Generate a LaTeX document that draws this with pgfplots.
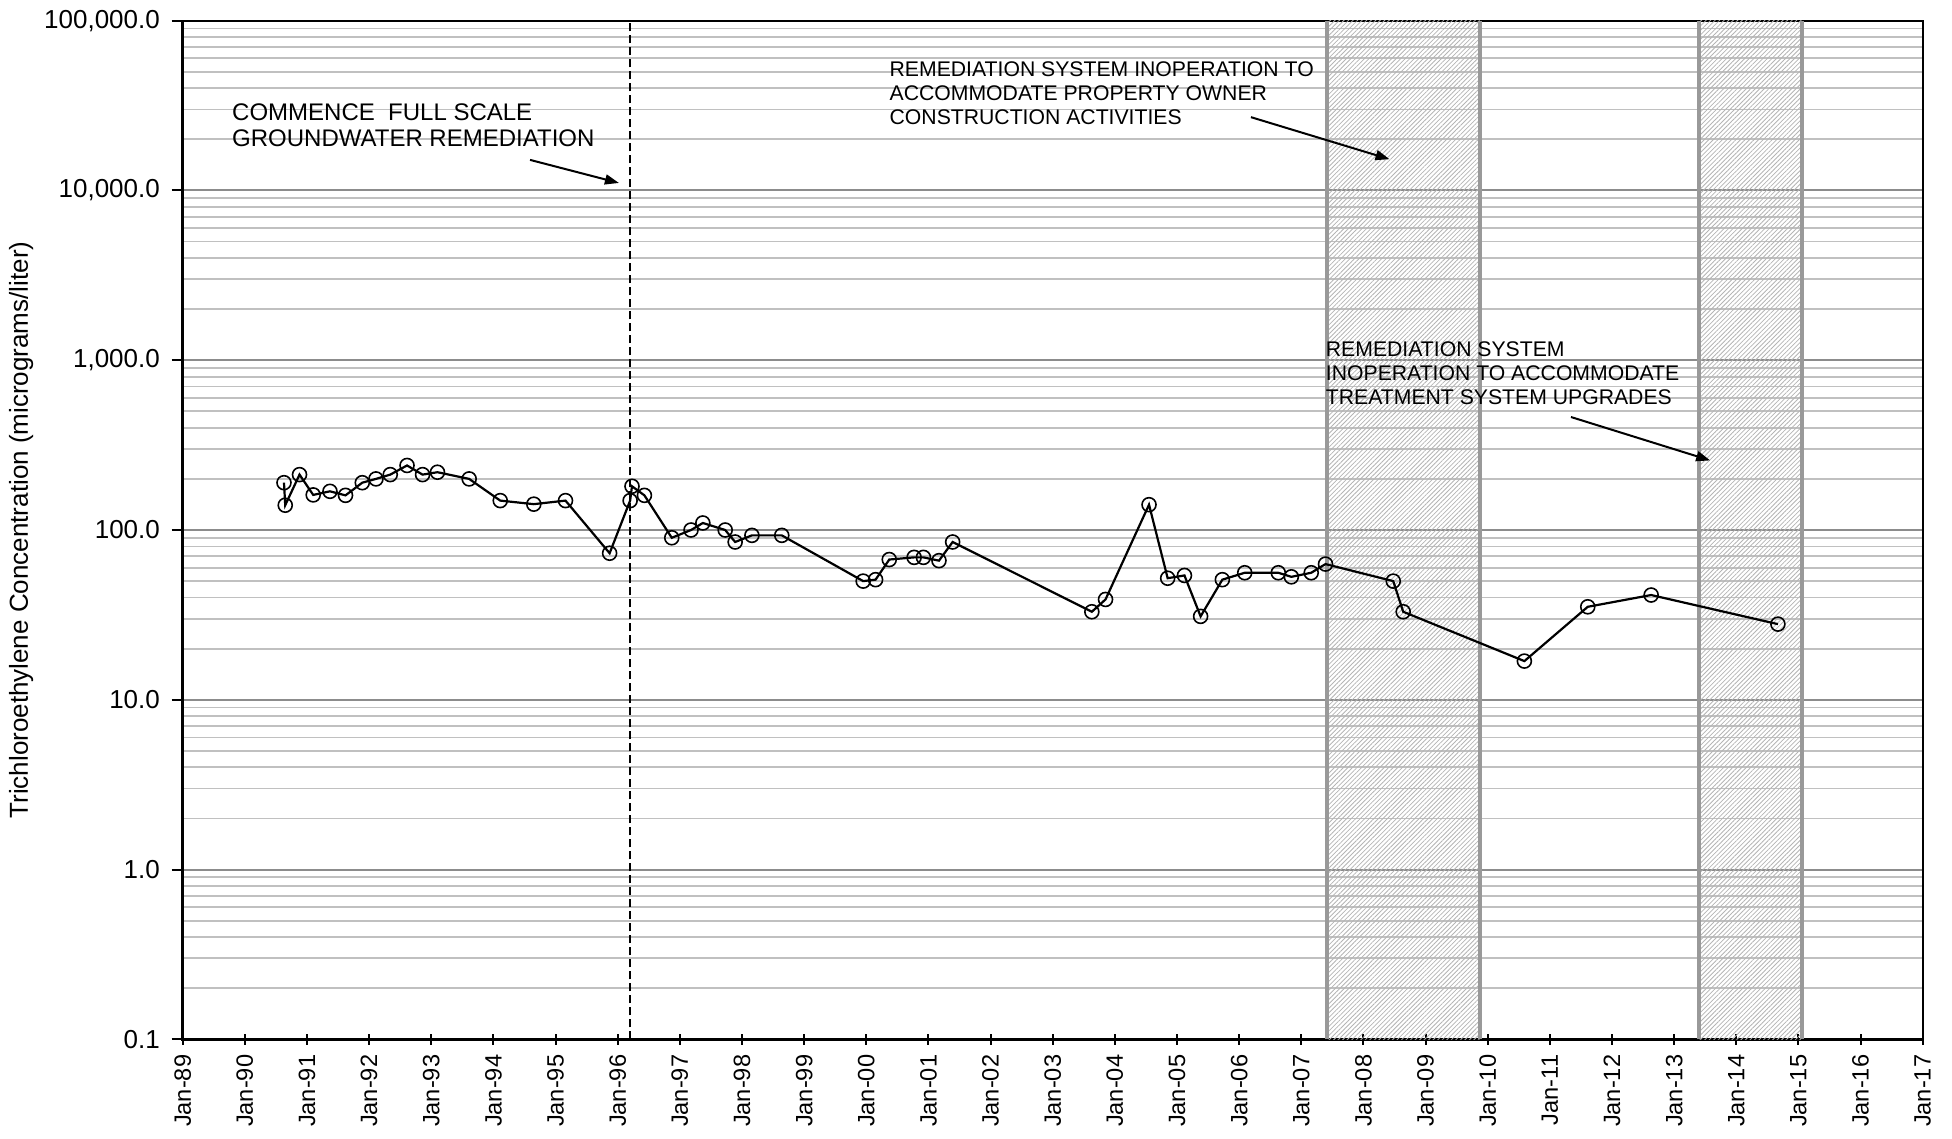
\documentclass[border=0pt]{standalone}
\usepackage{fontspec}
\setmainfont{Liberation Sans}
\usepackage{pgfplots}
\pgfplotsset{compat=1.18}
\usetikzlibrary{patterns.meta,arrows.meta}

\definecolor{majgrid}{HTML}{8C8C8C}
\definecolor{mingrid}{HTML}{C0C0C0}
\definecolor{bandedge}{HTML}{999999}
\definecolor{hatch}{HTML}{B4B4B4}

\begin{document}
\begin{tikzpicture}
\begin{axis}[
  name=ax,
  scale only axis,
  width=870pt, height=509.3pt,
  xmin=1989, xmax=2017,
  ymode=log, ymin=0.1, ymax=100000,
  xtick={1989,1990,...,2017},
  xticklabels={Jan-89,Jan-90,Jan-91,Jan-92,Jan-93,Jan-94,Jan-95,Jan-96,Jan-97,Jan-98,Jan-99,Jan-00,Jan-01,Jan-02,Jan-03,Jan-04,Jan-05,Jan-06,Jan-07,Jan-08,Jan-09,Jan-10,Jan-11,Jan-12,Jan-13,Jan-14,Jan-15,Jan-16,Jan-17},
  minor x tick num=3,
  ytick={0.1,1,10,100,1000,10000,100000},
  yticklabels={0.1,1.0,10.0,100.0,{1,000.0},{10,000.0},{100,000.0}},
  tick pos=left,
  tick align=outside,
  major tick length=5.5pt,
  minor tick length=2.2pt,
  tick style={black, line width=1pt},
  major x tick style={yshift=2.75pt},
  minor y tick style={draw=none},
  ymajorgrids, yminorgrids,
  major grid style={majgrid, line width=1pt},
  minor grid style={mingrid, line width=0.9pt},
  axis line style={black, line width=1.2pt},
  xticklabel style={rotate=90, anchor=east, font=\fontsize{11.8}{12}\selectfont},
  yticklabel style={font=\fontsize{13}{13}\selectfont},
  xticklabel shift=-1.3pt,
  yticklabel shift=2.4pt,
  clip=false,
]
% shaded periods
\addplot[forget plot, draw=none, pattern={Lines[angle=45,distance=1.6pt,line width=0.4pt]}, pattern color=hatch]
  coordinates {(2007.41,0.1) (2007.41,100000) (2009.87,100000) (2009.87,0.1)} -- cycle;
\addplot[forget plot, draw=none, pattern={Lines[angle=45,distance=1.6pt,line width=0.4pt]}, pattern color=hatch]
  coordinates {(2013.40,0.1) (2013.40,100000) (2015.05,100000) (2015.05,0.1)} -- cycle;
\addplot[forget plot, bandedge, line width=2pt] coordinates {(2007.41,0.1) (2007.41,100000)};
\addplot[forget plot, bandedge, line width=2pt] coordinates {(2009.87,0.1) (2009.87,100000)};
\addplot[forget plot, bandedge, line width=2pt] coordinates {(2013.40,0.1) (2013.40,100000)};
\addplot[forget plot, bandedge, line width=2pt] coordinates {(2015.05,0.1) (2015.05,100000)};
% start of remediation
\addplot[forget plot, black, line width=1pt, dash pattern=on 4pt off 2pt] coordinates {(1996.19,0.1) (1996.19,100000)};
% TCE data
\addplot[black, line width=1.1pt, mark=o, mark size=3.5pt, mark options={solid, line width=0.8pt, fill=none}] coordinates {
(1990.63,190) (1990.65,140) (1990.88,212) (1991.10,161) (1991.37,169) (1991.62,160)
(1991.89,190) (1992.11,200) (1992.34,212) (1992.61,240) (1992.86,212) (1993.10,219)
(1993.61,200) (1994.11,149) (1994.65,142) (1995.16,149) (1995.87,73) (1996.20,149)
(1996.23,181) (1996.43,160) (1996.87,90) (1997.18,100) (1997.37,110) (1997.73,100)
(1997.89,85) (1998.16,93) (1998.64,93) (1999.95,50) (2000.15,51) (2000.37,67)
(2000.77,69) (2000.92,69) (2001.17,66) (2001.39,85) (2003.63,33) (2003.85,39)
(2004.55,141) (2004.85,52) (2005.12,54) (2005.38,31) (2005.73,51) (2006.09,56)
(2006.63,56) (2006.84,53) (2007.16,56) (2007.39,63) (2008.48,50) (2008.64,33)
(2010.59,16.9) (2011.61,35.3) (2012.63,41.4) (2014.67,27.9)
};
% annotations
\node[anchor=north west, align=left, inner sep=0pt, font=\fontsize{12}{13}\selectfont]
  at (axis cs:1989.79,32600) {COMMENCE\ \ FULL SCALE\\GROUNDWATER REMEDIATION};
\draw[-{Triangle[length=7pt,width=5pt]}, line width=1pt] (axis cs:1994.59,15140) -- (axis cs:1996.02,11070);
\node[anchor=north west, align=left, inner sep=0pt, font=\fontsize{10.6}{12}\selectfont]
  at (axis cs:2000.37,57300) {REMEDIATION SYSTEM INOPERATION TO\\ACCOMMODATE PROPERTY OWNER\\CONSTRUCTION ACTIVITIES};
\draw[-{Triangle[length=7pt,width=5pt]}, line width=1pt] (axis cs:2006.19,27030) -- (axis cs:2008.42,15280);
\node[anchor=north west, align=left, inner sep=0pt, font=\fontsize{10.6}{12}\selectfont]
  at (axis cs:2007.39,1300) {REMEDIATION SYSTEM\\INOPERATION TO ACCOMMODATE\\TREATMENT SYSTEM UPGRADES};
\draw[-{Triangle[length=7pt,width=5pt]}, line width=1pt] (axis cs:2011.34,463) -- (axis cs:2013.58,257);
\node[rotate=90, font=\fontsize{13}{13}\selectfont] at (axis description cs:-0.0929,0.5)
  {Trichloroethylene Concentration (micrograms/liter)};
\end{axis}
\path ([xshift=-91.35pt,yshift=-49.35pt]ax.south west) rectangle ([xshift=14.65pt,yshift=10.35pt]ax.north east);
\end{tikzpicture}
\end{document}
